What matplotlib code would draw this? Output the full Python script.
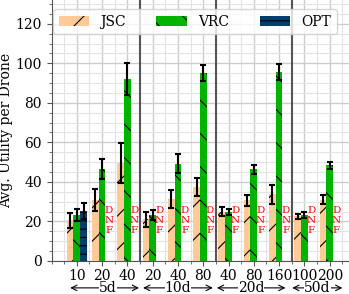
import numpy as np
import matplotlib
matplotlib.use("Agg")
import matplotlib.pyplot as plt
from matplotlib.patches import Patch, FancyArrowPatch
from matplotlib.ticker import MultipleLocator

plt.rcParams["font.family"] = ["DejaVu Serif"]
plt.rcParams["font.size"] = 10
plt.rcParams["hatch.linewidth"] = 0.8

# one entry per (setting, N) group
TICKS = ["10", "20", "40", "20", "40", "80", "40", "80", "160", "100", "200"]
SECTIONS = ["5d", "10d", "20d", "50d"]
SEPARATORS = [2.5, 5.5, 8.5]

JSC = [20.5, 30.8, 49.5, 21.0, 31.2, 37.5, 24.9, 30.8, 33.7, 22.6, 31.0]
JSC_ERR = [3.6, 5.5, 10.0, 3.6, 4.6, 4.4, 2.2, 2.8, 4.8, 1.3, 2.3]
VRC = [23.2, 46.5, 92.0, 23.2, 49.3, 95.0, 24.9, 46.3, 95.5, 23.2, 48.3]
VRC_ERR = [2.9, 5.0, 8.0, 2.5, 4.7, 4.0, 1.5, 2.3, 4.0, 1.5, 2.0]
OPT = [25.3, None, None, None, None, None, None, None, None, None, None]
OPT_ERR = [4.0, None, None, None, None, None, None, None, None, None, None]

C_JSC = "#fdca98"
C_VRC = "#00b400"
C_OPT = "#003f6b"

fig = plt.figure(figsize=(3.49, 2.94), dpi=100)
ax = fig.add_axes([51.5 / 349, 1 - 261 / 294, (355 - 51.5) / 349, 261 / 294])

x = np.arange(len(TICKS))
w = 0.8 / 3
ekw = dict(ecolor="black", elinewidth=1.5, capsize=2, capthick=1.5)

ax.bar(x - w, JSC, w, color=C_JSC, hatch="/", linewidth=0,
       yerr=JSC_ERR, error_kw=ekw, zorder=3)
ax.bar(x, VRC, w, color=C_VRC, hatch="\\", linewidth=0,
       yerr=VRC_ERR, error_kw=ekw, zorder=3)
for i, (v, e) in enumerate(zip(OPT, OPT_ERR)):
    if v is None:
        ax.text(x[i] + w, 20.5, "D\nN\nF", color="red", fontsize=7.5,
                ha="center", va="center", linespacing=1.1, zorder=4)
    else:
        ax.bar(x[i] + w, v, w, color=C_OPT, hatch="--", linewidth=0,
               yerr=e, error_kw=ekw, zorder=3)

for sx in SEPARATORS:
    ax.axvline(sx, color="#555555", lw=1.5, zorder=2)

ax.set_xlim(-1, 11)
ax.set_ylim(0, 132)
ax.set_xticks(x)
ax.set_xticklabels(TICKS)
ax.xaxis.set_minor_locator(MultipleLocator(0.5))
ax.yaxis.set_major_locator(MultipleLocator(20))
ax.yaxis.set_minor_locator(MultipleLocator(5))
ax.grid(True, which="major", color="#cccccc", lw=1.0, zorder=0)
ax.grid(True, which="minor", color="#e3e3e3", lw=0.8, zorder=0)
ax.set_axisbelow(True)
for s in ("top", "right"):
    ax.spines[s].set_visible(False)
for s in ("left", "bottom"):
    ax.spines[s].set_color("#555555")
ax.tick_params(which="both", colors="#555555", labelcolor="black")
ax.tick_params(axis="x", which="major", pad=2.0)
ax.set_ylabel("Avg. Utility per Drone")
ax.yaxis.set_label_coords(-0.126, 0.5)

# section labels with double arrows under the tick labels
arrow_ends = [(-0.26, 2.46), (2.62, 5.38), (5.54, 8.25), (8.52, 10.5)]
text_shift = [0.12, 0.0, 0.0, 0.0]
ytr = ax.get_xaxis_transform()
for name, (lo, hi), dx in zip(SECTIONS, arrow_ends, text_shift):
    arr = FancyArrowPatch((lo, -0.103), (hi, -0.103), transform=ytr,
                          arrowstyle="<->,head_length=4,head_width=2",
                          lw=0.8, color="black", shrinkA=0, shrinkB=0,
                          clip_on=False)
    ax.add_patch(arr)
    ax.text((lo + hi) / 2 + dx, -0.102, name, transform=ytr,
            ha="center", va="center", zorder=5,
            bbox=dict(facecolor="white", edgecolor="none", pad=0))

handles = [Patch(facecolor=C_JSC, hatch="/", label="JSC"),
           Patch(facecolor=C_VRC, hatch="\\", label="VRC"),
           Patch(facecolor=C_OPT, hatch="--", label="OPT")]
ax.legend(handles=handles, loc="upper left", ncol=3,
          bbox_to_anchor=(53 / 349, 1 - 9 / 294),
          bbox_transform=fig.transFigure, borderaxespad=0,
          handlelength=2.2, columnspacing=2.2, handletextpad=0.8)

fig.savefig("out.png", dpi=100)
